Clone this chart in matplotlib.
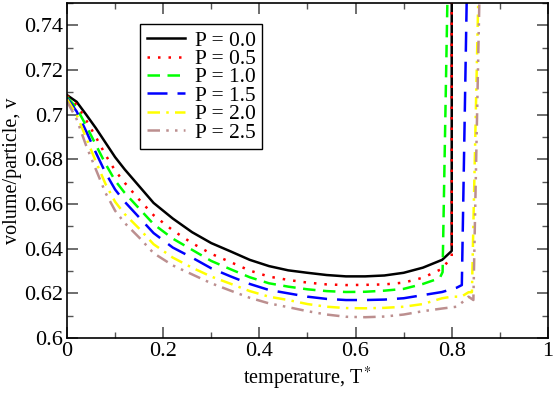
import matplotlib
matplotlib.use("Agg")
import matplotlib.pyplot as plt
from matplotlib.ticker import MultipleLocator

plt.rcParams['font.family'] = ['Liberation Serif', 'DejaVu Serif']
plt.rcParams['mathtext.fontset'] = 'stix'

T_common = [0.0, 0.02, 0.04, 0.06, 0.08, 0.10, 0.12, 0.15, 0.18, 0.22, 0.26, 0.30,
            0.34, 0.38, 0.42, 0.46, 0.50, 0.54, 0.58, 0.62, 0.66, 0.70, 0.74]

v_p00 = [0.7088, 0.7058, 0.700, 0.694, 0.6875, 0.681, 0.6755, 0.668, 0.6605, 0.6535, 0.6474, 0.6425,
         0.6388, 0.635, 0.6322, 0.6303, 0.6292, 0.6282, 0.6276, 0.6276, 0.628, 0.6292, 0.6315]
v_p05 = [0.7085, 0.7045, 0.6975, 0.690, 0.682, 0.675, 0.6695, 0.662, 0.655, 0.6482, 0.6425, 0.6377,
         0.634, 0.6302, 0.6275, 0.626, 0.6248, 0.624, 0.6237, 0.6238, 0.624, 0.6248, 0.627]
v_p10 = [0.708, 0.703, 0.695, 0.6865, 0.678, 0.6705, 0.665, 0.658, 0.651, 0.6445, 0.6395, 0.6345,
         0.6308, 0.6272, 0.6245, 0.623, 0.6218, 0.621, 0.6206, 0.6207, 0.6212, 0.622, 0.6242]
v_p15 = [0.7075, 0.7015, 0.6925, 0.683, 0.674, 0.6665, 0.661, 0.654, 0.647, 0.6405, 0.636, 0.6312,
         0.6276, 0.6242, 0.6215, 0.620, 0.6185, 0.6175, 0.617, 0.617, 0.6172, 0.6178, 0.6192]
v_p20 = [0.707, 0.700, 0.6895, 0.679, 0.669, 0.661, 0.6555, 0.649, 0.642, 0.636, 0.6315, 0.6275,
         0.6243, 0.621, 0.6185, 0.617, 0.6152, 0.614, 0.6134, 0.6133, 0.6135, 0.614, 0.6152]
v_p25 = [0.706, 0.698, 0.686, 0.6755, 0.665, 0.657, 0.6515, 0.645, 0.638, 0.6325, 0.6285, 0.6245,
         0.6212, 0.618, 0.6155, 0.6138, 0.612, 0.6105, 0.6095, 0.6093, 0.6096, 0.6105, 0.612]

# high-temperature ends (melting jump) per curve
T_end_p00 = [0.78, 0.80, 0.80]
v_end_p00 = [0.635, 0.639, 0.80]
T_end_p05 = [0.78, 0.80, 0.80]
v_end_p05 = [0.631, 0.6365, 0.80]
T_end_p10 = [0.775, 0.781, 0.795]
v_end_p10 = [0.6268, 0.6295, 0.80]
T_end_p15 = [0.78, 0.81, 0.821, 0.835]
v_end_p15 = [0.6206, 0.6225, 0.6237, 0.80]
T_end_p20 = [0.78, 0.80, 0.82, 0.835, 0.842, 0.86]
v_end_p20 = [0.6178, 0.6185, 0.6185, 0.6205, 0.6205, 0.80]
T_end_p25 = [0.78, 0.81, 0.825, 0.835, 0.845, 0.862]
v_end_p25 = [0.6132, 0.614, 0.6165, 0.6185, 0.617, 0.80]

labels = ['P = 0.0', 'P = 0.5', 'P = 1.0', 'P = 1.5', 'P = 2.0', 'P = 2.5']
colors = ['#000000', '#ff0000', '#00ff00', '#0000ff', '#ffff00', '#bc8f8f']
styles = ['-', (0, (1, 3.2)), (0, (5, 3)), (0, (8, 4)), (0, (5, 2.5, 1, 2.5)),
          (0, (5, 2.5, 1, 2.5, 1, 2.5))]

x_ticks = [0.0, 0.2, 0.4, 0.6, 0.8, 1.0]
x_tick_labels = ['0', '0.2', '0.4', '0.6', '0.8', '1']
y_ticks = [0.6, 0.62, 0.64, 0.66, 0.68, 0.7, 0.72, 0.74]
y_tick_labels = ['0.6', '0.62', '0.64', '0.66', '0.68', '0.7', '0.72', '0.74']

series = [(v_p00, T_end_p00, v_end_p00), (v_p05, T_end_p05, v_end_p05),
          (v_p10, T_end_p10, v_end_p10), (v_p15, T_end_p15, v_end_p15),
          (v_p20, T_end_p20, v_end_p20), (v_p25, T_end_p25, v_end_p25)]

fig = plt.figure(figsize=(5.54, 3.93), dpi=100)
ax = fig.add_axes([0.121, 0.140, 0.868, 0.852])

for (v, te, ve), lab, c, ls in zip(series, labels, colors, styles):
    ax.plot(T_common + te, v + ve, color=c, linestyle=ls, lw=1.8, label=lab)

ax.set_xlim(0, 1)
ax.set_ylim(0.6, 0.75)
ax.set_xticks(x_ticks)
ax.set_xticklabels(x_tick_labels)
ax.set_yticks(y_ticks)
ax.set_yticklabels(y_tick_labels)
ax.xaxis.set_minor_locator(MultipleLocator(0.1))
ax.yaxis.set_minor_locator(MultipleLocator(0.01))
ax.tick_params(which='both', direction='in', top=True, right=True, labelsize=16,
               color='#555555')
ax.tick_params(which='major', length=8, width=1.2, pad=3)
ax.tick_params(axis='y', which='major', pad=3)
ax.tick_params(which='minor', length=4, width=1.0)
for s in ax.spines.values():
    s.set_linewidth(1.2)

ax.set_xlabel('temperature, T$^*$', fontsize=14.5, labelpad=3)
ax.set_ylabel('volume/particle, v', fontsize=14.5, labelpad=1)

leg = ax.legend(loc='upper left', bbox_to_anchor=(0.152, 0.937), fontsize=15.5,
                frameon=True, fancybox=False, framealpha=1, edgecolor='black',
                handlelength=1.8, handletextpad=0.45, labelspacing=-0.08,
                borderpad=0.3, borderaxespad=0)
leg.get_frame().set_linewidth(1.0)

fig.savefig('out.png', dpi=100)
